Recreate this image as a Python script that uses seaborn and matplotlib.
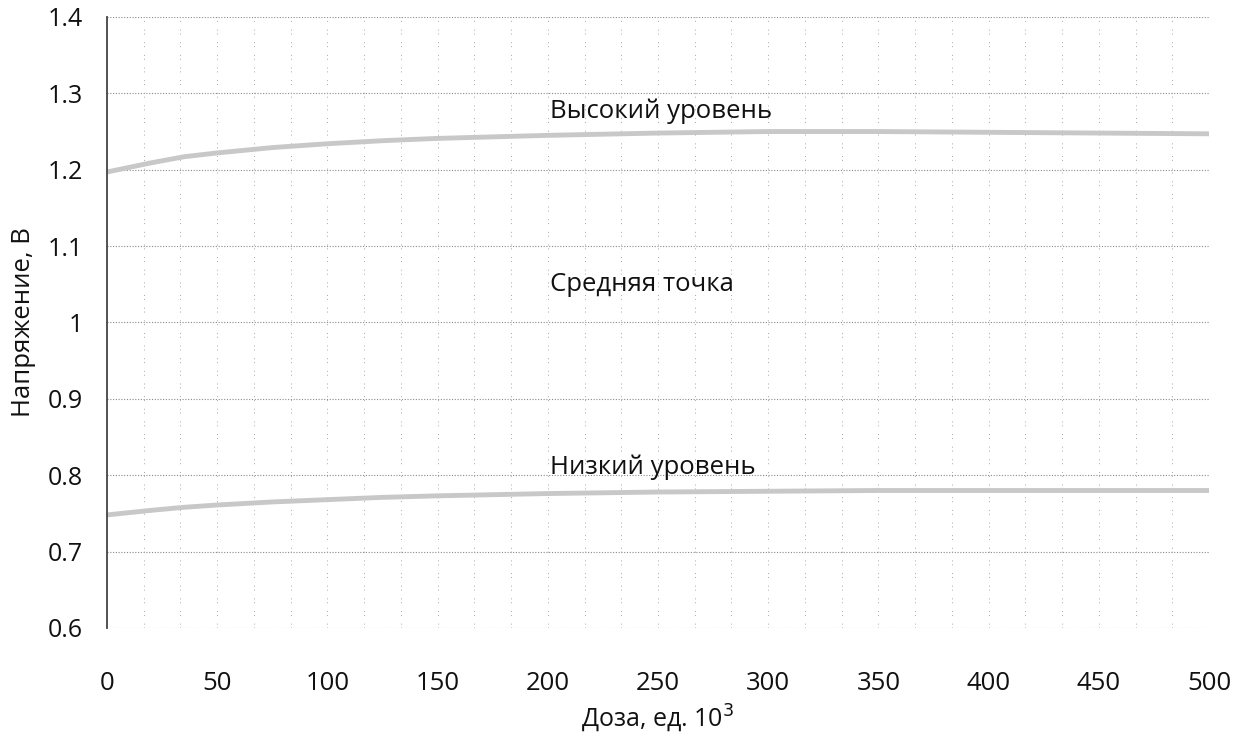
import matplotlib
matplotlib.use("Agg")
import matplotlib.pyplot as plt
import seaborn as sns
import pandas as pd
import numpy as np

# Data
dose = [0, 10, 20, 35, 50, 75, 100, 125, 150, 200, 250, 300, 350, 400, 450, 500]
high_level = [1.197, 1.203, 1.209, 1.217, 1.222, 1.229, 1.234, 1.238, 1.241, 1.245, 1.248, 1.250, 1.250, 1.249, 1.248, 1.247]
low_level = [0.748, 0.751, 0.754, 0.758, 0.761, 0.765, 0.768, 0.771, 0.773, 0.776, 0.778, 0.779, 0.780, 0.780, 0.780, 0.780]

y_ticks = [0.6, 0.7, 0.8, 0.9, 1.0, 1.1, 1.2, 1.3, 1.4]
y_tick_labels = ["0.6", "0.7", "0.8", "0.9", "1", "1.1", "1.2", "1.3", "1.4"]
x_ticks = [0, 50, 100, 150, 200, 250, 300, 350, 400, 450, 500]
x_tick_labels = [str(v) for v in x_ticks]

labels = ["Высокий уровень", "Средняя точка", "Низкий уровень"]
label_pos = [(201, 1.276), (201, 1.050), (201, 0.810)]

sns.set_theme(style="white")
plt.rcParams['font.family'] = ['Open Sans', 'DejaVu Sans']

df = pd.DataFrame({
    "dose": dose * 2,
    "value": high_level + low_level,
    "series": ["high"] * len(dose) + ["low"] * len(dose),
})

fig = plt.figure(figsize=(12.45, 7.38), dpi=100)
ax = fig.add_axes([0.0859, 0.1491, 0.9711 - 0.0859, 0.9770 - 0.1491])

sns.lineplot(data=df, x="dose", y="value", hue="series",
             palette={"high": "#c8c8c8", "low": "#c8c8c8"},
             linewidth=3.5, legend=False, ax=ax, estimator=None)

ax.set_xlim(0, 500)
ax.set_ylim(0.6, 1.4)

# Grid
for yv in y_ticks:
    ax.axhline(yv, color="#8a8a8a", linewidth=0.8, linestyle=(0, (1, 1.5)), zorder=0)
for xv in np.arange(1, 31) * (500 / 30):
    ax.axvline(xv, color="#a8a8a8", linewidth=0.7, linestyle=(0, (1, 3, 1, 8)), zorder=0)

for s in ["top", "right", "bottom"]:
    ax.spines[s].set_visible(False)
ax.spines["left"].set_color("#444444")
ax.spines["left"].set_linewidth(1.3)

ax.set_yticks(y_ticks)
ax.set_yticklabels(y_tick_labels)
ax.set_xticks(x_ticks)
ax.set_xticklabels(x_tick_labels)
ax.tick_params(axis="y", length=0, pad=17, labelsize=18, labelcolor="#111111")
ax.tick_params(axis="x", length=0, pad=31, labelsize=18.5, labelcolor="#111111")

ax.set_xlabel("Доза, ед. 10$^3$", fontsize=18, color="#111111")
ax.set_ylabel("Напряжение, В", fontsize=18.5, color="#111111")
ax.xaxis.set_label_coords(0.5, -0.148)
ax.xaxis.label.set_va("center")
ax.yaxis.set_label_coords(-0.076, 0.5)
ax.yaxis.label.set_va("center")

for txt, (xx, yy) in zip(labels, label_pos):
    ax.text(xx, yy, txt, fontsize=18.5, color="#111111", ha="left", va="center")

fig.savefig("out.png", dpi=100, facecolor="white")
